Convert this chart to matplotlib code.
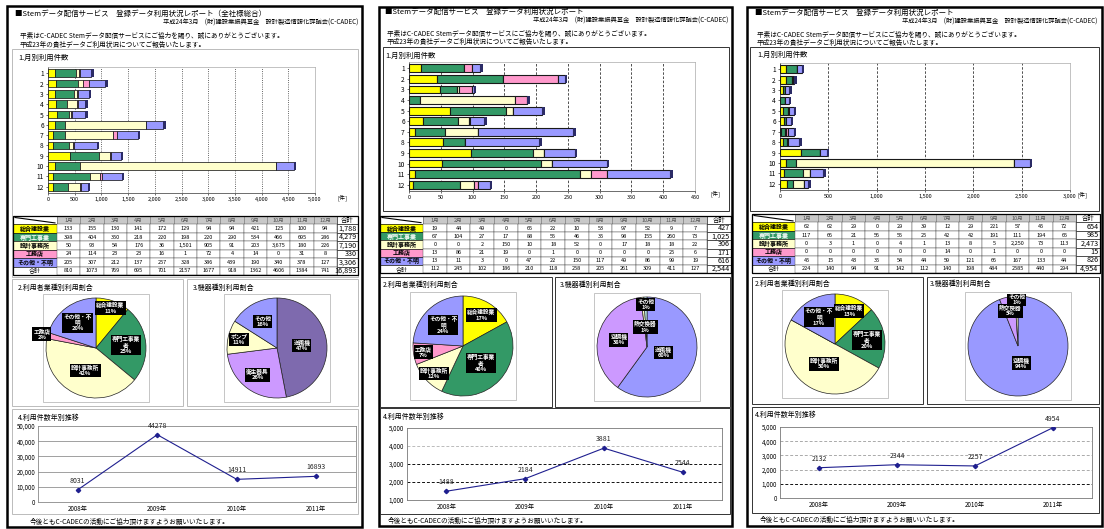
import matplotlib
matplotlib.use('Agg')
import matplotlib.pyplot as plt
from matplotlib.patches import Rectangle
import numpy as np

plt.rcParams['font.family'] = ['Noto Sans CJK JP', 'DejaVu Sans']

# ---------------- data ----------------
months = ['1月', '2月', '3月', '4月', '5月', '6月', '7月', '8月', '9月', '10月', '11月', '12月']
month_rows = [str(i) for i in range(1, 13)]
industries = ['総合建設業', '専門工事業', '設計事務所', '工務店', 'その他・不明']
ind_colors = ['#FFFF00', '#339966', '#FFFFCC', '#FF99CC', '#9999FF']
years = ['2008年', '2009年', '2010年', '2011年']

# page 1 (全社様総合)
p1_general = [133, 155, 130, 141, 172, 129, 94, 94, 421, 125, 100, 94]
p1_special = [398, 404, 350, 218, 220, 198, 220, 290, 534, 466, 695, 286]
p1_design = [50, 93, 54, 176, 36, 1501, 905, 91, 203, 3675, 180, 226]
p1_builder = [24, 114, 23, 23, 16, 1, 72, 4, 14, 0, 31, 8]
p1_other = [205, 307, 212, 137, 257, 328, 386, 439, 190, 340, 378, 127]
p1_month_total = [810, 1073, 769, 695, 701, 2157, 1677, 918, 1362, 4606, 1384, 741]
p1_row_total = [1788, 4279, 7190, 330, 3306]
p1_grand = 16893
p1_ind_pct = [11, 25, 42, 2, 20]
p1_dev_labels = ['送風機', '衛生器具', 'ポンプ', 'その他']
p1_dev_pct = [47, 26, 11, 16]
p1_dev_colors = ['#7E6AAE', '#CC99FF', '#FFFFCC', '#9999FF']
p1_yearly = [8031, 44278, 14911, 16893]

# page 2
p2_general = [19, 44, 49, 0, 65, 22, 10, 53, 97, 52, 9, 7]
p2_special = [67, 104, 27, 17, 88, 55, 46, 35, 98, 155, 260, 73]
p2_design = [0, 0, 2, 150, 10, 18, 52, 0, 17, 18, 18, 22]
p2_builder = [13, 86, 21, 19, 0, 1, 0, 0, 0, 0, 25, 6]
p2_other = [13, 11, 3, 0, 47, 22, 150, 117, 49, 86, 99, 19]
p2_month_total = [112, 245, 102, 186, 210, 118, 258, 205, 261, 309, 411, 127]
p2_row_total = [427, 1025, 306, 171, 616]
p2_grand = 2544
p2_ind_pct = [17, 40, 12, 7, 24]
p2_dev_labels = ['送風機', '空調機', '熱交換器', 'その他']
p2_dev_pct = [60, 38, 1, 1]
p2_dev_colors = ['#9999FF', '#CC99FF', '#FFFFCC', '#CCFFFF']
p2_yearly = [1488, 2184, 3881, 2544]

# page 3
p3_general = [62, 62, 29, 0, 29, 39, 12, 29, 221, 57, 45, 72]
p3_special = [117, 66, 21, 56, 55, 25, 42, 42, 191, 111, 194, 65]
p3_design = [0, 3, 1, 0, 4, 1, 13, 8, 5, 2250, 73, 113]
p3_builder = [0, 0, 0, 0, 0, 0, 14, 0, 1, 0, 0, 0]
p3_other = [45, 15, 43, 35, 54, 44, 59, 121, 66, 167, 133, 44]
p3_month_total = [224, 140, 94, 91, 142, 112, 140, 198, 484, 2585, 440, 294]
p3_row_total = [654, 985, 2473, 15, 826]
p3_grand = 4954
p3_ind_pct = [13, 20, 50, 0, 17]
p3_dev_labels = ['空調機', '熱交換器', 'その他']
p3_dev_pct = [94, 5, 1]
p3_dev_colors = ['#9999FF', '#CC99FF', '#FFFFCC']
p3_yearly = [2132, 2344, 2257, 4954]

ind_pie_labels = ['総合建設業', '専門工事業\n者', '設計事務所', '工務店', 'その他・不\n明']

# ---------------- figure ----------------
W, H = 1104, 529
fig = plt.figure(figsize=(W / 100, H / 100), dpi=100)
fig.patch.set_facecolor('white')


def px_axes(x0, y0, x1, y1, z=2):
    ax = fig.add_axes([x0 / W, 1 - y1 / H, (x1 - x0) / W, (y1 - y0) / H])
    ax.set_zorder(z)
    return ax


ov = px_axes(0, 0, W, H, z=0)
ov.set_xlim(0, W)
ov.set_ylim(H, 0)
ov.axis('off')


def rect(x0, y0, x1, y1, ec='black', lw=0.6, fc='none', z=1):
    ov.add_patch(Rectangle((x0, y0), x1 - x0, y1 - y0, ec=ec, fc=fc, lw=lw, zorder=z))


def txt(x, y, s, fs=5.0, ha='left', va='center', **kw):
    ov.text(x, y, s, fontsize=fs, ha=ha, va=va, **kw)


def fmt(v):
    return f'{v:,}'


def bar_chart(box, data, xmax, step, gls, elw):
    ax = px_axes(*box)
    rows = np.arange(1, 13)
    left = np.zeros(12)
    for vals, c in zip(data, ind_colors):
        ax.barh(rows, vals, left=left, height=0.74, color=c, edgecolor='#1A1A1A',
                linewidth=elw, zorder=3)
        left = left + np.array(vals)
    ax.barh(rows, xmax * 0.009, left=left, height=0.74, color='#2B2B66', lw=0, zorder=3)
    ax.set_xlim(0, xmax)
    ax.set_ylim(12.6, 0.4)
    ax.set_yticks(rows)
    ax.set_yticklabels(month_rows, fontsize=4.8)
    ticks = np.arange(0, xmax + 1, step)
    ax.set_xticks(ticks)
    ax.set_xticklabels([fmt(int(t)) for t in ticks], fontsize=4.0)
    ax.tick_params(length=1.5, width=0.4, pad=1.5)
    ax.grid(axis='x', color='#333333', linestyle=gls, linewidth=0.6, zorder=0)
    for s in ['top', 'right']:
        ax.spines[s].set_color('#AAAAAA')
        ax.spines[s].set_linewidth(0.5)
    for s in ['left', 'bottom']:
        ax.spines[s].set_color('#555555')
        ax.spines[s].set_linewidth(0.6)
    ax.set_facecolor('white')
    return ax


def draw_table(x0, x1, y0, y1, lab_w, tot_w, body, row_tot, month_tot, grand):
    rh = (y1 - y0) / 7
    mw = (x1 - x0 - lab_w - tot_w) / 12
    fs = 4.0
    rect(x0, y0, x0 + lab_w, y0 + rh, lw=0.4, fc='white')
    ov.plot([x0 + 2, x0 + lab_w - 2], [y0 + 1.5, y0 + rh - 1.5], color='black', lw=0.8, zorder=2)
    for j, m in enumerate(months):
        cx = x0 + lab_w + j * mw
        rect(cx, y0, cx + mw, y0 + rh, lw=0.4, fc='#C8C8C8', ec='#777777')
        txt(cx + mw / 2, y0 + rh / 2, m, fs=fs, ha='center', color='#555555')
    rect(x1 - tot_w, y0, x1, y0 + rh, lw=0.4, fc='white')
    txt(x1 - tot_w / 2, y0 + rh / 2, '合計', fs=4.6, ha='center')
    for i in range(6):
        ry = y0 + (i + 1) * rh
        if i < 5:
            fc = ind_colors[i]
            lab = industries[i]
            vals = [fmt(v) for v in body[i]]
            tot = fmt(row_tot[i])
            fw = 'bold'
        else:
            fc = 'white'
            lab = '合計'
            vals = [str(v) for v in month_tot]
            tot = fmt(grand)
            fw = 'normal'
        rect(x0, ry, x0 + lab_w, ry + rh, lw=0.4, fc=fc)
        tc = 'white' if i == 1 else 'black'
        txt(x0 + lab_w / 2, ry + rh / 2, lab, fs=4.3, ha='center', color=tc, fontweight=fw)
        for j, v in enumerate(vals):
            cx = x0 + lab_w + j * mw
            rect(cx, ry, cx + mw, ry + rh, lw=0.3, fc='white', ec='#444444')
            txt(cx + mw / 2, ry + rh / 2, v, fs=fs, ha='center')
        rect(x1 - tot_w, ry, x1, ry + rh, lw=0.4, fc='white')
        txt(x1 - 1.5, ry + rh / 2, tot, fs=5.2, ha='right')
    rect(x0, y0, x1, y1, lw=0.9)


def pie_chart(cx, cy, r, vals, colors, labels, fracs):
    rect(cx - r - 2, cy - r - 3, cx + r + 2, cy + r + 3, ec='#BBBBBB', lw=0.6, fc='white')
    ax = px_axes(cx - r, cy - r, cx + r, cy + r)
    ax.set_facecolor('none')
    wedges, _ = ax.pie(vals, colors=colors, startangle=90, counterclock=False, radius=1,
                       wedgeprops=dict(edgecolor='#222222', linewidth=0.5))
    ax.set_xlim(-1.02, 1.02)
    ax.set_ylim(-1.02, 1.02)
    ax.set_aspect('equal')
    for w, lab, v, f in zip(wedges, labels, vals, fracs):
        if v <= 0:
            continue
        th = np.deg2rad((w.theta1 + w.theta2) / 2)
        ax.text(f * np.cos(th), f * np.sin(th), f'{lab}\n{v}%', fontsize=4.1, color='white',
                fontweight='bold', ha='center', va='center', linespacing=1.05,
                bbox=dict(boxstyle='square,pad=0.2', fc='black', ec='none'), zorder=5,
                clip_on=False)
    return ax


def line_chart(box, vals, ymin, ymax, step, grid_styles, frame_c):
    ax = px_axes(*box)
    x = np.arange(len(years))
    for gy, (gc, gls) in grid_styles.items():
        ax.axhline(gy, color=gc, linestyle=gls, linewidth=0.7, zorder=1)
    ax.plot(x, vals, color='#1F1F8F', lw=0.8, marker='D', ms=2.2, zorder=3)
    for xi, v in zip(x, vals):
        ax.annotate(str(v), (xi, v), xytext=(0, 3.5), textcoords='offset points',
                    ha='center', va='bottom', fontsize=5.0, color='#222222')
    ax.set_xlim(-0.5, len(years) - 0.5)
    ax.set_ylim(ymin, ymax)
    ticks = np.arange(ymin, ymax + 1, step)
    ax.set_yticks(ticks)
    ax.set_yticklabels([fmt(int(t)) for t in ticks], fontsize=4.5)
    ax.set_xticks(x)
    ax.set_xticklabels(years, fontsize=4.5)
    ax.tick_params(length=0, pad=2)
    for s in ax.spines.values():
        s.set_color(frame_c)
        s.set_linewidth(0.6)
    return ax


pages = [
    dict(xl=7, xr=362, yt=6, yb=527, box_c='#BBBBBB',
         title='■Stemデータ配信サービス　登録データ利用状況レポート（全社様総合）',
         data=[p1_general, p1_special, p1_design, p1_builder, p1_other],
         mt=p1_month_total, rt=p1_row_total, gt=p1_grand,
         ind=p1_ind_pct, dev=p1_dev_pct, devl=p1_dev_labels, devc=p1_dev_colors,
         yearly=p1_yearly),
    dict(xl=379, xr=732, yt=7, yb=526, box_c='#333333',
         title='■Stemデータ配信サービス　登録データ利用状況レポート',
         data=[p2_general, p2_special, p2_design, p2_builder, p2_other],
         mt=p2_month_total, rt=p2_row_total, gt=p2_grand,
         ind=p2_ind_pct, dev=p2_dev_pct, devl=p2_dev_labels, devc=p2_dev_colors,
         yearly=p2_yearly),
    dict(xl=747, xr=1102, yt=7, yb=526, box_c='#333333',
         title='■Stemデータ配信サービス　登録データ利用状況レポート',
         data=[p3_general, p3_special, p3_design, p3_builder, p3_other],
         mt=p3_month_total, rt=p3_row_total, gt=p3_grand,
         ind=p3_ind_pct, dev=p3_dev_pct, devl=p3_dev_labels, devc=p3_dev_colors,
         yearly=p3_yearly),
]

subtitle = '平成24年3月　(財)建設業振興基金　設計製造情報化評議会(C-CADEC)'
line1 = '平素はC-CADEC Stemデータ配信サービスにご協力を賜り、誠にありがとうございます。'
line2 = '平成23年の貴社データご利用状況についてご報告いたします。'
footer = '今後ともC-CADECの活動にご協力頂けますようお願いいたします。'

# page-specific layout (pixels)
bar_boxes = [(48, 67, 315, 193), (409, 62, 695, 191), (780, 63, 1070, 190)]
bar_xmax = [5000, 450, 3000]
bar_step = [500, 50, 500]
bar_gls = [':', (0, (3, 2)), (0, (3, 2))]
bar_elw = [0.55, 0.8, 0.8]
unit_pos = [(337, 198), (710, 194), (1077, 195)]
sec1_boxes = [(12, 49, 358, 277), (383, 47, 729, 211), (750, 47, 1099, 211)]
tables = [(13, 358, 216, 275, 44, 21), (380, 731, 216, 273, 43, 24), (752, 1100, 214, 273, 43, 24)]
pie_boxes = [((12, 279, 183, 406), (187, 279, 358, 406)),
             ((380, 277, 552, 407), (555, 277, 730, 407)),
             ((752, 277, 923, 404), (927, 277, 1099, 404))]
pie_centers = [((96, 348), (277, 348)), ((463, 346), (647, 347)), ((835, 344), (1018, 346))]
ind_fracs = [[0.85, 0.6, 0.5, 1.12, 0.63], [0.72, 0.5, 0.8, 0.8, 0.58], [0.72, 0.64, 0.45, 1.0, 0.63]]
dev_fracs = [[0.5, 0.66, 0.78, 0.6], [0.35, 0.58, 0.4, 0.85], [0.35, 0.72, 0.92]]
line_boxes = [(12, 409, 358, 514), (380, 408, 730, 514), (752, 407, 1099, 513)]
line_plots = [(38, 426, 356, 502), (407, 428, 722, 500), (780, 427, 1092, 498)]
line_ranges = [(0, 50000, 10000), (1000, 5000, 1000), (0, 5000, 1000)]
line_grids = [
    {10000: ('#A0A0A0', '-'), 20000: ('#A0A0A0', '-'), 30000: ('#A0A0A0', '-'), 40000: ('#A0A0A0', '-')},
    {4000: ('#BBBBBB', (0, (3, 2))), 3000: ('#111111', (0, (3, 2))), 2000: ('#111111', (0, (3, 2)))},
    {4000: ('#AAAAAA', (0, (3, 2))), 3000: ('#AAAAAA', (0, (3, 2))), 2000: ('#AAAAAA', (0, (3, 2))),
     1000: ('#111111', (0, (3, 2)))},
]
line_frame = ['#888888', '#777777', '#777777']
title_pos = [(15, 14), (385, 12), (755, 13)]
sub_pos = [(358, 23), (728, 21), (1097, 22)]
body_pos = [(20, 36, 45), (387, 34, 42), (757, 35, 43)]
sec1_title = [(18, 58), (385, 56), (757, 55)]
sec23_title = [((18, 288), (193, 288)), ((383, 285), (560, 285)), ((755, 284), (930, 284))]
sec4_title = [(18, 418), (383, 417), (755, 415)]
footer_pos = [(30, 522), (388, 521), (760, 520)]

for k, pg in enumerate(pages):
    rect(pg['xl'], pg['yt'], pg['xr'], pg['yb'], lw=1.8, ec='black')
    txt(*title_pos[k], pg['title'], fs=5.4)
    txt(*sub_pos[k], subtitle, fs=4.5, ha='right')
    bx, by1, by2 = body_pos[k]
    txt(bx, by1, line1, fs=4.8)
    txt(bx, by2, line2, fs=4.8)
    rect(*sec1_boxes[k], ec=pg['box_c'], lw=0.7)
    txt(*sec1_title[k], '1.月別利用件数', fs=5.3)
    bar_chart(bar_boxes[k], pg['data'], bar_xmax[k], bar_step[k], bar_gls[k], bar_elw[k])
    txt(*unit_pos[k], '[件]', fs=4.3)
    tx0, tx1, ty0, ty1, lw_, tw_ = tables[k]
    draw_table(tx0, tx1, ty0, ty1, lw_, tw_, pg['data'], pg['rt'], pg['mt'], pg['gt'])
    for b in pie_boxes[k]:
        rect(*b, ec=pg['box_c'], lw=0.7)
    txt(*sec23_title[k][0], '2.利用者業種別利用割合', fs=5.0)
    txt(*sec23_title[k][1], '3.機器種別利用割合', fs=5.0)
    (c1x, c1y), (c2x, c2y) = pie_centers[k]
    pie_chart(c1x, c1y, 51, pg['ind'], ind_colors, ind_pie_labels, ind_fracs[k])
    pie_chart(c2x, c2y, 51, pg['dev'], pg['devc'], pg['devl'], dev_fracs[k])
    rect(*line_boxes[k], ec=pg['box_c'], lw=0.7)
    txt(*sec4_title[k], '4.利用件数年別推移', fs=5.0)
    ymin, ymax, ystep = line_ranges[k]
    line_chart(line_plots[k], pg['yearly'], ymin, ymax, ystep, line_grids[k], line_frame[k])
    txt(*footer_pos[k], footer, fs=4.8)

fig.savefig('out.png', dpi=100, facecolor='white')
